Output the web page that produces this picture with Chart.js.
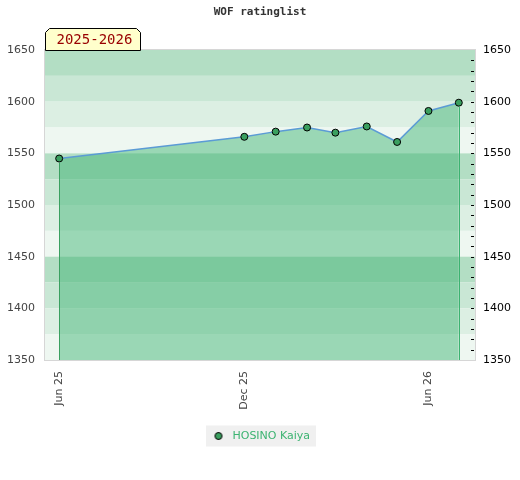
<!DOCTYPE html>
<html>
<head>
<meta charset="utf-8">
<script src="https://cdn.jsdelivr.net/npm/chart.js@4"></script>
<style>
  html, body { margin: 0; padding: 0; background: #fff; }
  #wrap { width: 520px; height: 480px; }
</style>
</head>
<body>
<div id="wrap"><canvas id="ratingChart"></canvas></div>
<script>
// rating list dates and the player's rating on each
const listDates = ['2025-06-01', '2025-12-01', '2026-01-01', '2026-02-01', '2026-03-01',
                   '2026-04-01', '2026-05-01', '2026-06-01', '2026-07-01'];
const ratings = [1545, 1566, 1571, 1575, 1570, 1576, 1561, 1591, 1599];

// x axis labels and where they go
const tickDates = ['2025-06-01', '2025-12-01', '2026-06-01'];
const tickLabels = ['Jun 25', 'Dec 25', 'Jun 26'];

const playerName = 'HOSINO Kaiya';
const seasonLabel = '2025-2026';

// days since epoch, the x axis is linear in days
const toDay = s => Date.UTC(+s.slice(0, 4), +s.slice(5, 7) - 1, +s.slice(8, 10)) / 864e5;

const points = listDates.map((d, i) => ({ x: toDay(d), y: ratings[i] }));

const bandColors = ['#b3dec4', '#c9e7d5', '#dcefe3', '#eef7f1'];
const pointColor = '#3a9f5f';

// little dot for the legend, drawn once on its own canvas
const legendDot = document.createElement('canvas');
legendDot.width = 10;
legendDot.height = 10;
(function () {
    const c = legendDot.getContext('2d');
    c.beginPath();
    c.arc(5, 5, 3.5, 0, Math.PI * 2);
    c.fillStyle = pointColor;
    c.fill();
    c.lineWidth = 1;
    c.strokeStyle = '#000';
    c.stroke();
})();

// striped background, 25 points per band
const bandsPlugin = {
    id: 'bands',
    beforeDatasetsDraw(chart) {
        const { ctx, chartArea: a, scales: { y } } = chart;
        ctx.save();
        let i = 0;
        for (let v = y.max; v > y.min; v -= 25, i++) {
            const top = y.getPixelForValue(v);
            const bottom = y.getPixelForValue(v - 25);
            ctx.fillStyle = bandColors[i % 4];
            ctx.fillRect(a.left, top, a.right - a.left, bottom - top);
        }
        ctx.restore();
    }
};

// vertical line from a point down to the bottom of the plot
function dropLine(chart, pt, colour) {
    const { ctx, chartArea: a, scales: { x, y } } = chart;
    const px = Math.round(x.getPixelForValue(pt.x)) + 0.5;
    ctx.save();
    ctx.lineWidth = 1;
    ctx.strokeStyle = colour;
    ctx.beginPath();
    ctx.moveTo(px, y.getPixelForValue(pt.y) + 4);
    ctx.lineTo(px, a.bottom);
    ctx.stroke();
    ctx.restore();
}

// border, edge lines, right minor ticks and the season badge
const decorPlugin = {
    id: 'decor',
    beforeDraw(chart) {
        // grey box behind the legend
        const boxes = chart.legend && chart.legend.legendHitBoxes;
        if (!boxes || !boxes.length) return;
        const b = boxes[0];
        const ctx = chart.ctx;
        ctx.save();
        ctx.fillStyle = '#f0f0f0';
        ctx.fillRect(b.left - 4, b.top - 5, b.width + 10, b.height + 10);
        ctx.restore();
    },
    afterDatasetsDraw(chart) {
        dropLine(chart, points[0], '#3aa060');
        dropLine(chart, points[points.length - 1], '#3cb371');
    },
    afterDraw(chart) {
        const { ctx, chartArea: a, scales: { y } } = chart;
        ctx.save();
        // plot frame
        ctx.strokeStyle = '#d6d6d6';
        ctx.lineWidth = 1;
        ctx.strokeRect(a.left - 0.5, a.top - 0.5, a.right - a.left + 1, a.bottom - a.top + 1);
        // minor ticks every 10 on the right edge
        ctx.strokeStyle = '#000';
        for (let v = y.min + 10; v < y.max; v += 10) {
            const py = Math.round(y.getPixelForValue(v)) + 0.5;
            ctx.beginPath();
            ctx.moveTo(a.right - 4, py);
            ctx.lineTo(a.right - 1, py);
            ctx.stroke();
        }
        // season badge sitting on the top left corner
        const l = a.left + 0.5, r = a.left + 95.5, t = a.top - 21.5, btm = a.top + 0.5, c = 4;
        ctx.beginPath();
        ctx.moveTo(l, btm);
        ctx.lineTo(l, t + c);
        ctx.lineTo(l + c, t);
        ctx.lineTo(r - c, t);
        ctx.lineTo(r, t + c);
        ctx.lineTo(r, btm);
        ctx.closePath();
        ctx.fillStyle = '#ffffcc';
        ctx.fill();
        ctx.strokeStyle = '#000';
        ctx.stroke();
        ctx.fillStyle = '#990000';
        ctx.font = '14px "DejaVu Sans Mono", monospace';
        ctx.textBaseline = 'middle';
        ctx.fillText(seasonLabel, l + 11, t + 12);
        ctx.restore();
    }
};

const plain = v => String(v);

const ctx = document.getElementById('ratingChart').getContext('2d');

const ratingChart = new Chart(ctx, {
    type: 'line',
    data: {
        datasets: [{
            label: playerName,
            data: points,
            borderColor: '#5b9bd5',
            borderWidth: 1.5,
            backgroundColor: 'rgba(60, 179, 113, 0.47)',
            fill: 'start',
            tension: 0,
            pointRadius: 3.5,
            pointBackgroundColor: pointColor,
            pointBorderColor: '#000',
            pointBorderWidth: 1
        }]
    },
    options: {
        responsive: true,
        maintainAspectRatio: false,
        animation: false,
        layout: { padding: { left: 0, right: 0, top: 0, bottom: 28.5 } },
        scales: {
            x: {
                type: 'linear',
                min: toDay('2025-05-18'),
                max: toDay('2026-07-17'),
                grid: { display: false, drawTicks: false },
                border: { display: false },
                afterBuildTicks: axis => {
                    axis.ticks = tickDates.map(d => ({ value: toDay(d) }));
                },
                afterFit: axis => { axis.height = 60.5; },
                ticks: {
                    padding: 11,
                    minRotation: 90,
                    maxRotation: 90,
                    color: '#444',
                    font: { family: 'DejaVu Sans', size: 11 },
                    callback: (value, index) => tickLabels[index]
                }
            },
            y: {
                position: 'left',
                min: 1350,
                max: 1650,
                grid: { display: false, drawTicks: false },
                border: { display: false },
                afterFit: axis => { axis.width = 45; },
                ticks: {
                    stepSize: 50,
                    padding: 10,
                    color: '#444',
                    font: { family: 'DejaVu Sans', size: 11 },
                    callback: plain
                }
            },
            y2: {
                position: 'right',
                min: 1350,
                max: 1650,
                grid: { display: false, drawTicks: false },
                border: { display: false },
                afterFit: axis => { axis.width = 45; },
                ticks: {
                    stepSize: 50,
                    padding: 8,
                    color: '#000',
                    font: { family: 'DejaVu Sans', size: 11 },
                    callback: plain
                }
            }
        },
        plugins: {
            title: {
                display: true,
                text: 'WOF ratinglist',
                color: '#333',
                font: { family: 'DejaVu Sans Mono', size: 11, weight: 'bold', lineHeight: 1.2 },
                padding: { top: 6, bottom: 30.8 }
            },
            legend: {
                position: 'bottom',
                labels: {
                    usePointStyle: true,
                    pointStyle: legendDot,
                    pointStyleWidth: 17,
                    boxHeight: 11,
                    color: '#3cb371',
                    font: { family: 'DejaVu Sans', size: 11 }
                }
            },
            tooltip: { enabled: false }
        }
    },
    plugins: [bandsPlugin, decorPlugin]
});
</script>
</body>
</html>
